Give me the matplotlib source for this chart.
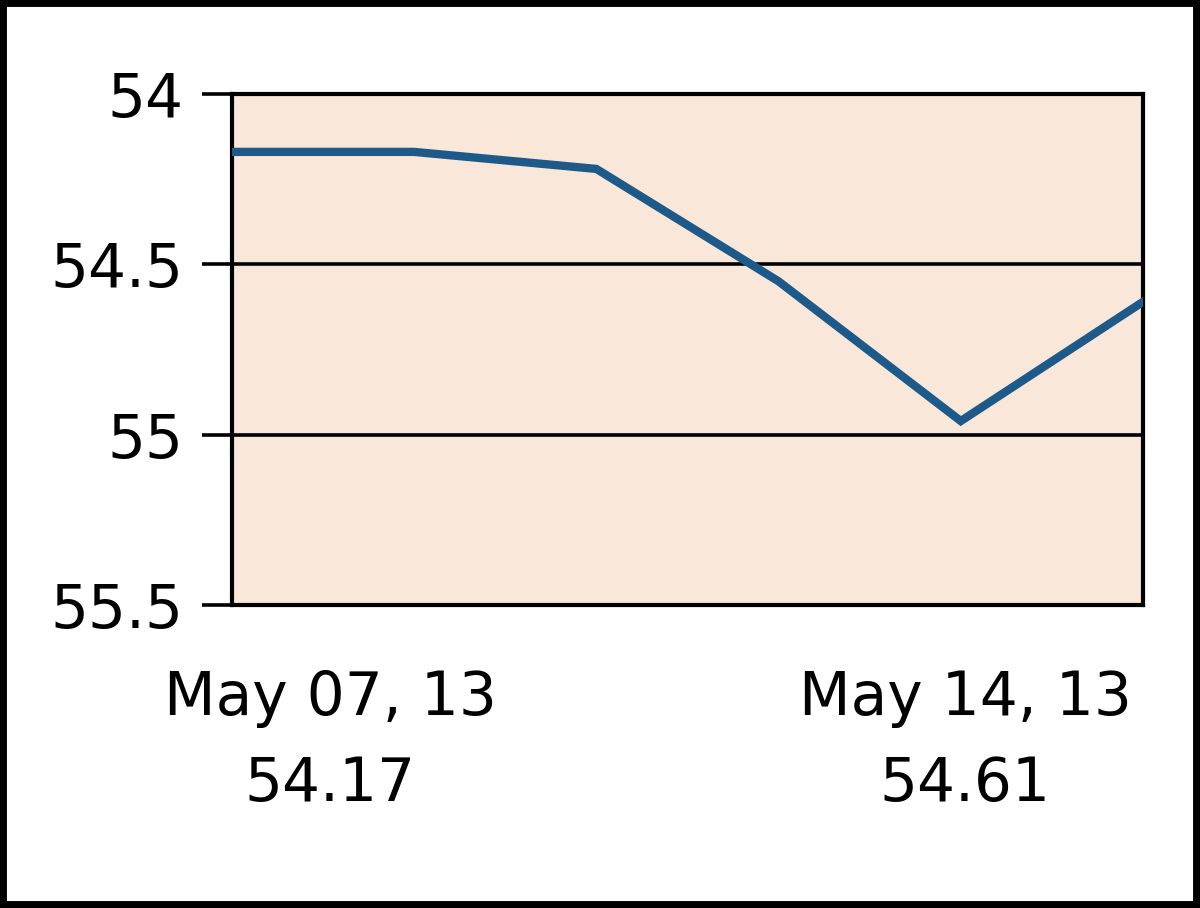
import matplotlib
matplotlib.use("Agg")
import matplotlib.pyplot as plt
from matplotlib.patches import Rectangle

# daily closes, May 07 .. May 14 2013 (trading days)
days = ["May 07, 13", "May 08, 13", "May 09, 13", "May 10, 13", "May 13, 13", "May 14, 13"]
closes = [54.17, 54.17, 54.22, 54.55, 54.96, 54.61]
y_ticks = [54, 54.5, 55, 55.5]
y_tick_labels = ["54", "54.5", "55", "55.5"]
first_label = f"{days[0]}\n{closes[0]:.2f}"
last_label = f"{days[-1]}\n{closes[-1]:.2f}"

plt.rcParams['font.family'] = ['DejaVu Sans']

fig = plt.figure(figsize=(12, 9.08), dpi=100)
ax = fig.add_axes([0.1933, 0.3337, 0.7592, 0.5628])

x = list(range(len(closes)))
ax.plot(x, closes, color='#1d5a8a', linewidth=6, solid_joinstyle='miter', zorder=3)

ax.set_facecolor('#f9e8d9')
ax.set_xlim(0, len(closes) - 1)
ax.set_ylim(55.5, 54)  # inverted scale, as in the source
ax.set_yticks(y_ticks)
ax.set_yticklabels(y_tick_labels)
ax.set_xticks([])

ax.yaxis.grid(True, color='black', linewidth=2.6)
ax.set_axisbelow(True)
for sp in ax.spines.values():
    sp.set_linewidth(3.0)
    sp.set_color('black')
ax.tick_params(axis='y', direction='out', length=21.6, width=2.6, pad=13.5,
               labelsize=43, colors='black')

ax.text(0.108, -0.125, first_label, transform=ax.transAxes, ha='center', va='top',
        fontsize=43, linespacing=1.58)
ax.text(0.805, -0.125, last_label, transform=ax.transAxes, ha='center', va='top',
        fontsize=43, linespacing=1.58)

# outer frame
fig.patches.append(Rectangle((0, 0), 1, 1, transform=fig.transFigure, fill=False,
                             edgecolor='black', linewidth=10, zorder=10))

fig.savefig("out.png", dpi=100, facecolor='white')
